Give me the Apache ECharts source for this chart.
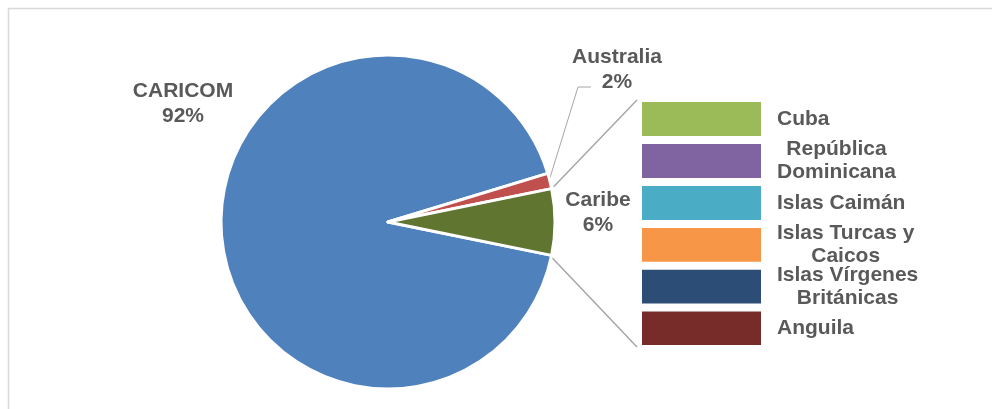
<!DOCTYPE html>
<html><head><meta charset="utf-8">
<script src="https://cdn.jsdelivr.net/npm/echarts@6/dist/echarts.min.js"></script>
<style>html,body{margin:0;padding:0;background:#fff}#c{width:992px;height:409px}</style>
</head><body><div id="c"></div>
<script>
// ---- data ----
const pieNames = ['CARICOM', 'Australia', 'Caribe'];
const pieValues = [92.1, 1.5, 6.4];
const pieColors = ['#4F81BD', '#C0504D', '#5F7530'];
const barNames = ['Cuba', 'República\nDominicana', 'Islas Caimán', 'Islas Turcas y\nCaicos', 'Islas Vírgenes\nBritánicas', 'Anguila'];
const barValues = [1.07, 1.07, 1.07, 1.07, 1.06, 1.06];
const barColors = ['#9BBB59', '#8064A2', '#4BACC6', '#F79646', '#2C4D75', '#772C2A'];

// ---- layout ----
const FONT = '"Liberation Sans", Arial, sans-serif';
const FS = 21;
const TXT = '#595959';
const C = [388, 222], R = 167;
const G = {left: 638, top: 98, width: 127, height: 251};
const labelOffsets = [[-205, -118], [229, -152], [210, -9]];

const total = pieValues.reduce((a, b) => a + b, 0);
const caribeDeg = pieValues[2] / total * 360;
const startAngle = -caribeDeg / 2;
const barTotal = barValues.reduce((a, b) => a + b, 0);

const ctx = document.createElement('canvas').getContext('2d');
ctx.font = 'bold ' + FS + 'px ' + FONT;
const blockW = s => Math.max(...s.split('\n').map(l => ctx.measureText(l).width));

function pt(angDeg, r) {
  const a = angDeg * Math.PI / 180;
  return [C[0] + r * Math.cos(a), C[1] - r * Math.sin(a)];
}
const caribeTop = pt(caribeDeg / 2, R);
const caribeBot = pt(-caribeDeg / 2, R);
const ausMid = caribeDeg / 2 + (pieValues[1] / total * 360) / 2;
const ausPt = pt(ausMid, R - 1);
const ausLbl = [C[0] + labelOffsets[1][0], C[1] + labelOffsets[1][1]];
const barL = G.left + 2, barT = G.top + 2, barB = G.top + G.height - 2;

const series = [{
  type: 'pie',
  center: C, radius: R,
  startAngle: startAngle,
  clockwise: true,
  percentPrecision: 0,
  avoidLabelOverlap: false,
  data: pieNames.map((n, i) => ({name: n, value: pieValues[i], itemStyle: {color: pieColors[i]}})),
  itemStyle: {borderColor: '#fff', borderWidth: 3},
  label: {show: true, position: 'outside', formatter: '{b}\n{d}%', fontFamily: FONT, fontWeight: 'bold',
          fontSize: FS, color: TXT, lineHeight: 25},
  labelLine: {show: false},
  labelLayout: p => ({x: C[0] + labelOffsets[p.dataIndex][0], y: C[1] + labelOffsets[p.dataIndex][1],
                      align: 'center', verticalAlign: 'middle'}),
  emphasis: {disabled: true}
}];
barNames.forEach((n, i) => {
  series.push({
    type: 'bar', name: n, stack: 'c', barWidth: '100%',
    data: [barValues[i]],
    itemStyle: {color: barColors[i], borderColor: '#fff', borderWidth: 4},
    label: {show: true, position: 'right', formatter: n, distance: 12 + blockW(n) / 2,
            align: 'center', verticalAlign: 'middle', fontFamily: FONT, fontWeight: 'bold',
            fontSize: FS, color: TXT, lineHeight: 23},
    emphasis: {disabled: true}
  });
});

const option = {
  animation: false,
  grid: G,
  xAxis: {type: 'category', data: ['Caribe'], show: false},
  yAxis: {type: 'value', min: 0, max: barTotal, inverse: true, show: false},
  series: series,
  graphic: [
    {type: 'rect', shape: {x: 8.5, y: 8.5, width: 1000, height: 420}, style: {fill: null, stroke: '#d9d9d9', lineWidth: 1.5}, silent: true},
    {type: 'line', shape: {x1: caribeTop[0] + 2, y1: caribeTop[1] - 2, x2: barL - 3, y2: barT}, style: {stroke: '#a6a6a6', lineWidth: 1.5}, silent: true},
    {type: 'line', shape: {x1: caribeBot[0], y1: caribeBot[1] + 2, x2: barL - 3, y2: barB}, style: {stroke: '#a6a6a6', lineWidth: 1.5}, silent: true},
    {type: 'polyline', shape: {points: [ausPt, [ausLbl[0] - 39, ausLbl[1] + 17], [ausLbl[0] - 26, ausLbl[1] + 17]]},
     style: {stroke: '#a6a6a6', lineWidth: 1, fill: null}, silent: true}
  ]
};
const chart = echarts.init(document.getElementById('c'), null, {renderer: 'canvas'});
chart.setOption(option);
</script></body></html>
